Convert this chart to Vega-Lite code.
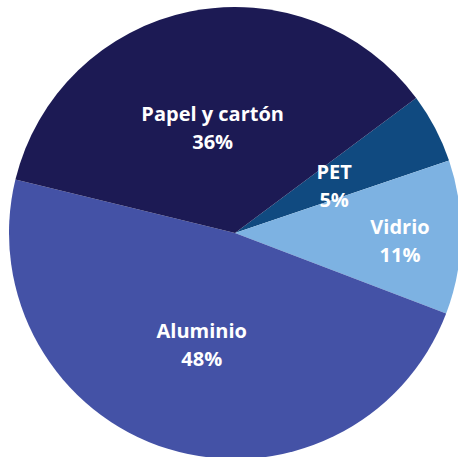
{
  "$schema": "https://vega.github.io/schema/vega-lite/v6.json",
  "width": 452,
  "height": 452,
  "autosize": {"type": "none"},
  "padding": {"left": 9, "top": 7, "right": 0, "bottom": 0},
  "background": "white",
  "view": {"stroke": null},
  "data": {
    "values": [
      {"material": "PET", "value": 5, "rank": 1, "label": "PET\n5%"},
      {"material": "Vidrio", "value": 11, "rank": 2, "label": "Vidrio\n11%"},
      {"material": "Aluminio", "value": 48, "rank": 3, "label": "Aluminio\n48%"},
      {"material": "Papel y cartón", "value": 36, "rank": 4, "label": "Papel y cartón\n36%"}
    ]
  },
  "encoding": {
    "theta": {"field": "value", "type": "quantitative", "stack": true, "scale": {"range": [0.93, 7.2132]}},
    "order": {"field": "rank", "type": "quantitative"}
  },
  "layer": [
    {
      "mark": {"type": "arc", "outerRadius": 226},
      "encoding": {
        "color": {
          "field": "material",
          "type": "nominal",
          "legend": null,
          "scale": {
            "domain": ["PET", "Vidrio", "Aluminio", "Papel y cartón"],
            "range": ["#104a80", "#7db2e2", "#4452a6", "#1c1a54"]
          }
        }
      }
    },
    {
      "mark": {"type": "text", "radius": 112, "dy": -8, "lineBreak": "\n", "lineHeight": 28, "font": "Open Sans", "fontWeight": "bold", "fontSize": 20, "fill": "white", "align": "center", "baseline": "middle"},
      "encoding": {
        "text": {"condition": {"test": "datum.material == 'Vidrio'", "value": ""}, "field": "label", "type": "nominal"}
      }
    },
    {
      "mark": {"type": "text", "radius": 165, "dy": -8, "lineBreak": "\n", "lineHeight": 28, "font": "Open Sans", "fontWeight": "bold", "fontSize": 20, "fill": "white", "align": "center", "baseline": "middle"},
      "encoding": {
        "text": {"condition": {"test": "datum.material != 'Vidrio'", "value": ""}, "field": "label", "type": "nominal"}
      }
    }
  ]
}
